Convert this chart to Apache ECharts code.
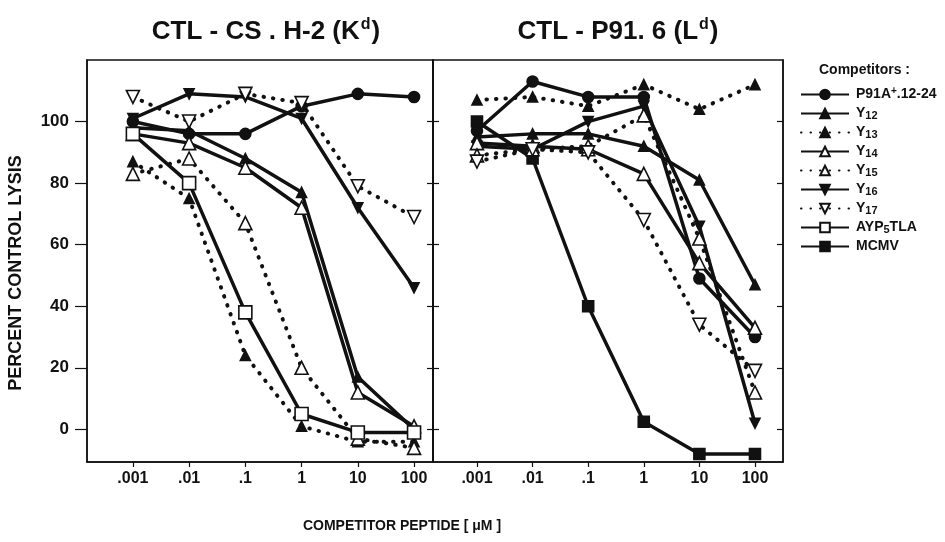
<!DOCTYPE html>
<html>
<head>
<meta charset="utf-8">
<script src="https://cdn.jsdelivr.net/npm/echarts@6/dist/echarts.min.js"></script>
<style>html,body{margin:0;padding:0;background:#fff}#c{width:945px;height:542px}</style>
</head>
<body>
<div id="c"></div>
<script>
// ---- data ----
const concentrations = [0.001, 0.01, 0.1, 1, 10, 100];
const tickLabels = ['.001', '.01', '.1', '1', '10', '100'];
const yTicks = [0, 20, 40, 60, 80, 100];

// Left panel: CTL - CS . H-2 (Kd)
const leftP91A = [100, 96, 96, 105, 109, 108];
const leftY12 = [98, 97, 88, 77, 17, 0];
const leftY13 = [87, 75, 24, 1, -4, -4];
const leftY14 = [96, 93, 85, 72, 12, 1];
const leftY15 = [83, 88, 67, 20, -3, -6];
const leftY16 = [101, 109, 108, 101, 72, 46];
const leftY17 = [108, 100, 109, 106, 79, 69];
const leftAYP = [96, 80, 38, 5, -1, -1];

// Right panel: CTL - P91. 6 (Ld)
const rightP91A = [97, 113, 108, 108, 49, 30];
const rightY12 = [95, 96, 96, 92, 81, 47];
const rightY13 = [107, 108, 105, 112, 104, 112];
const rightY14 = [93, 92, 91, 83, 54, 33];
const rightY15 = [89, 91, 92, 102, 62, 12];
const rightY16 = [92, 91, 100, 105, 66, 2];
const rightY17 = [87, 91, 90, 68, 34, 19];
const rightMCMV = [100, 88, 40, 2.5, -8, -8];

const seriesNames = ['P91A+.12-24', 'Y12', 'Y13', 'Y14', 'Y15', 'Y16', 'Y17', 'AYP5TLA', 'MCMV'];

// ---- styles ----
const INK = '#111';
const FONT = '"Liberation Sans", Arial, sans-serif';
const styles = {
  'P91A+.12-24': {symbol: 'circle', size: 11, fill: INK, dotted: false, rot: 0},
  'Y12': {symbol: 'triangle', size: 10, fill: INK, dotted: false, rot: 0},
  'Y13': {symbol: 'triangle', size: 10, fill: INK, dotted: true, rot: 0},
  'Y14': {symbol: 'triangle', size: 13, fill: '#fff', dotted: false, rot: 0},
  'Y15': {symbol: 'triangle', size: 13, fill: '#fff', dotted: true, rot: 0},
  'Y16': {symbol: 'triangle', size: 10, fill: INK, dotted: false, rot: 180},
  'Y17': {symbol: 'triangle', size: 13, fill: '#fff', dotted: true, rot: 180},
  'AYP5TLA': {symbol: 'rect', size: 13, fill: '#fff', dotted: false, rot: 0},
  'MCMV': {symbol: 'rect', size: 11, fill: INK, dotted: false, rot: 0}
};

function mk(name, vals, panel) {
  const s = styles[name];
  return {
    name: name,
    type: 'line',
    xAxisIndex: panel,
    yAxisIndex: panel * 2,
    data: concentrations.map((c, i) => [c, vals[i]]),
    symbol: s.symbol,
    symbolSize: s.size,
    symbolRotate: s.rot,
    showAllSymbol: true,
    z: s.fill === '#fff' ? 3 : 2,
    lineStyle: s.dotted
      ? {color: INK, width: 4, type: [0.5, 9], cap: 'round'}
      : {color: INK, width: 3.5, type: 'solid'},
    itemStyle: {color: s.fill, borderColor: INK, borderWidth: 1.6},
    emphasis: {disabled: true},
    animation: false
  };
}

const series = [
  mk('P91A+.12-24', leftP91A, 0),
  mk('Y12', leftY12, 0),
  mk('Y13', leftY13, 0),
  mk('Y14', leftY14, 0),
  mk('Y15', leftY15, 0),
  mk('Y16', leftY16, 0),
  mk('Y17', leftY17, 0),
  mk('AYP5TLA', leftAYP, 0),
  mk('P91A+.12-24', rightP91A, 1),
  mk('Y12', rightY12, 1),
  mk('Y13', rightY13, 1),
  mk('Y14', rightY14, 1),
  mk('Y15', rightY15, 1),
  mk('Y16', rightY16, 1),
  mk('Y17', rightY17, 1),
  mk('MCMV', rightMCMV, 1)
];

const labelText = {fontFamily: FONT, fontWeight: 'bold', fontSize: 17, color: INK};

function xAx(grid, min, max) {
  return {
    type: 'log', logBase: 10, gridIndex: grid, min: min, max: max,
    splitLine: {show: false},
    axisLine: {onZero: false, lineStyle: {color: INK, width: 1.5}},
    axisTick: {show: true, inside: false, length: 5, lineStyle: {color: INK, width: 1.2}},
    axisLabel: Object.assign({}, labelText, {
      fontSize: 16, margin: 9, showMinLabel: false, showMaxLabel: false,
      formatter: v => {
        const i = Math.round(Math.log10(v)) + 3;
        return tickLabels[i] !== undefined ? tickLabels[i] : '';
      }
    })
  };
}
function yAx(grid, pos, labels, inside) {
  return {
    type: 'value', gridIndex: grid, position: pos, min: -10.6, max: 120, splitNumber: 6,
    splitLine: {show: false},
    axisLine: {show: true, onZero: false, lineStyle: {color: INK, width: 1.5}},
    axisTick: {show: true, inside: inside, length: inside ? 6 : 12, lineStyle: {color: INK, width: 1.2},
      customValues: yTicks},
    axisLabel: Object.assign({}, labelText, {show: labels, margin: 18, customValues: yTicks})
  };
}

const chart = echarts.init(document.getElementById('c'), null, {renderer: 'canvas'});
chart.setOption({
  backgroundColor: '#fff',
  animation: false,
  title: [
    {text: 'CTL - CS . H-2 (K{sup|d})', left: 261, top: 12, textAlign: 'center',
      textStyle: {fontFamily: FONT, fontWeight: 'bold', fontSize: 26, color: INK,
        rich: {sup: {fontFamily: FONT, fontWeight: 'bold', fontSize: 16, color: INK, padding: [0, 1, 14, 1]}}}},
    {text: 'CTL - P91. 6 (L{sup|d})', left: 613, top: 12, textAlign: 'center',
      textStyle: {fontFamily: FONT, fontWeight: 'bold', fontSize: 26, color: INK,
        rich: {sup: {fontFamily: FONT, fontWeight: 'bold', fontSize: 16, color: INK, padding: [0, 1, 14, 1]}}}},
    {text: 'COMPETITOR PEPTIDE [ μM ]', left: 397, top: 514, textAlign: 'center',
      textStyle: {fontFamily: FONT, fontWeight: 'bold', fontSize: 14, color: INK}},
    {text: 'Competitors :', left: 814, top: 58,
      textStyle: {fontFamily: FONT, fontWeight: 'bold', fontSize: 14, color: INK}}
  ],
  graphic: [{
    type: 'text', x: 16, y: 273, rotation: Math.PI / 2,
    style: {text: 'PERCENT CONTROL LYSIS', font: 'bold 18px ' + FONT, fill: INK,
      align: 'center', verticalAlign: 'middle'}
  }],
  legend: {
    orient: 'vertical', left: 795, top: 81, itemWidth: 48, itemHeight: 12, itemGap: 2,
    data: seriesNames, selectedMode: false,
    textStyle: {fontFamily: FONT, fontWeight: 'bold', fontSize: 14, lineHeight: 17, color: INK,
      padding: [0, 0, 0, 2],
      rich: {
        sub: {fontFamily: FONT, fontWeight: 'bold', fontSize: 11, lineHeight: 17, color: INK, padding: [4, 0, 0, 0]},
        sup: {fontFamily: FONT, fontWeight: 'bold', fontSize: 10, lineHeight: 17, color: INK, padding: [0, 0, 6, 0]}
      }},
    formatter: n => {
      if (n === 'P91A+.12-24') return 'P91A{sup|+}.12-24';
      if (/^Y\d\d$/.test(n)) return 'Y{sub|' + n.slice(1) + '}';
      if (n === 'AYP5TLA') return 'AYP{sub|5}TLA';
      return n;
    }
  },
  grid: [
    {left: 87, top: 60, width: 346, height: 402, show: true, borderColor: INK, borderWidth: 1.5},
    {left: 433, top: 60, width: 350, height: 402, show: true, borderColor: INK, borderWidth: 1.5}
  ],
  xAxis: [
    xAx(0, Math.pow(10, -3.816), Math.pow(10, 2.337)),
    xAx(1, Math.pow(10, -3.791), Math.pow(10, 2.504))
  ],
  yAxis: [
    yAx(0, 'left', true, false),
    yAx(0, 'right', false, true),
    yAx(1, 'left', false, true),
    yAx(1, 'right', false, true)
  ],
  series: series
});
</script>
</body>
</html>
